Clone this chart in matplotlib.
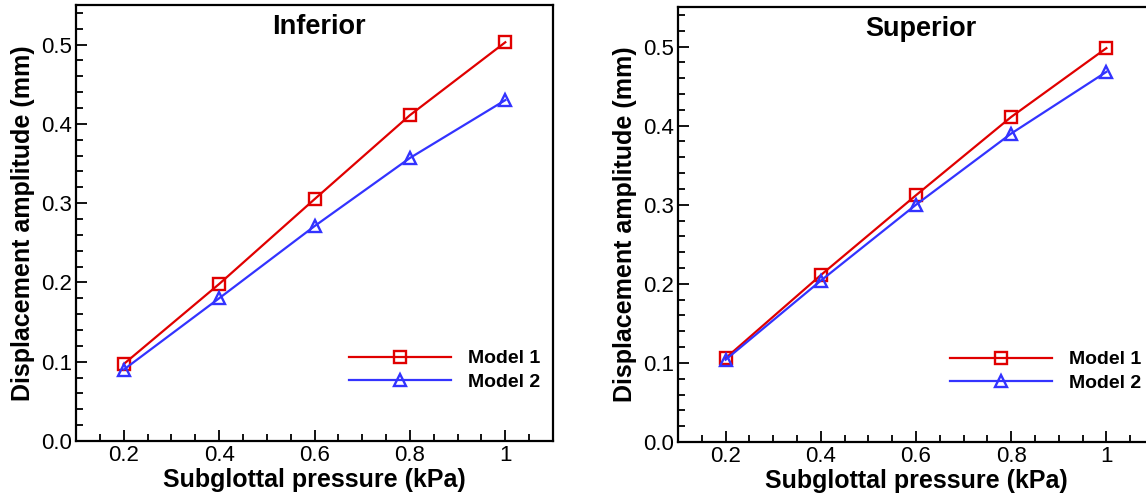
import numpy as np
import matplotlib
matplotlib.use("Agg")
import matplotlib.pyplot as plt
from matplotlib.ticker import MultipleLocator

plt.rcParams['font.family'] = ['Liberation Sans', 'DejaVu Sans']

# data
pressure = [0.2, 0.4, 0.6, 0.8, 1.0]
xtick_labels = ["0.2", "0.4", "0.6", "0.8", "1"]
inf_model1 = [0.097, 0.198, 0.305, 0.411, 0.503]
inf_model2 = [0.090, 0.180, 0.271, 0.357, 0.430]
sup_model1 = [0.106, 0.211, 0.312, 0.411, 0.498]
sup_model2 = [0.104, 0.204, 0.300, 0.390, 0.468]
titles = ["Inferior", "Superior"]

W, H = 1146, 496
fig = plt.figure(figsize=(W/100, H/100), dpi=100)

# axes boxes in pixels: left, right, top, bottom
boxes = [(76, 553, 5, 441), (678, 1154, 7, 442)]
red = "#e00000"
blue = "#3333ff"

for (l, r, t, b), title, m1, m2 in zip(boxes, titles,
                                       [inf_model1, sup_model1],
                                       [inf_model2, sup_model2]):
    ax = fig.add_axes([l/W, (H-b)/H, (r-l)/W, (b-t)/H])
    ax.plot(pressure, m1, color=red, lw=1.6, marker='s', ms=8,
            mfc='none', mec=red, mew=1.7, label="Model 1")
    ax.plot(pressure, m2, color=blue, lw=1.6, marker='^', ms=9,
            mfc='none', mec=blue, mew=1.7, label="Model 2")
    ax.set_xlim(0.1, 1.1)
    ax.set_ylim(0, 0.55)
    ax.set_xticks(pressure)
    ax.set_xticklabels(xtick_labels)
    ax.set_yticks([0.0, 0.1, 0.2, 0.3, 0.4, 0.5])
    ax.set_yticklabels(["0.0", "0.1", "0.2", "0.3", "0.4", "0.5"])
    ax.xaxis.set_minor_locator(MultipleLocator(0.05))
    ax.yaxis.set_minor_locator(MultipleLocator(0.02))
    ax.tick_params(which='both', direction='in', top=False, right=False,
                   width=1.3, labelsize=16)
    ax.tick_params(which='major', length=8, pad=3)
    ax.tick_params(which='minor', length=5)
    for s in ax.spines.values():
        s.set_linewidth(1.6)
    ax.set_xlabel("Subglottal pressure (kPa)", fontsize=18,
                  fontweight='bold', labelpad=1)
    ax.set_ylabel("Displacement amplitude (mm)", fontsize=18,
                  fontweight='bold', labelpad=4)
    ax.text(0.51, 0.95, title, transform=ax.transAxes, ha='center',
            va='center', fontsize=19.5, fontweight='bold')
    ax.legend(loc='lower right', bbox_to_anchor=(1.01, 0.075), frameon=False,
              handlelength=5.2, prop={'weight': 'bold', 'size': 14},
              labelspacing=0.3, handletextpad=0.9)

plt.savefig("out.png", dpi=100)
